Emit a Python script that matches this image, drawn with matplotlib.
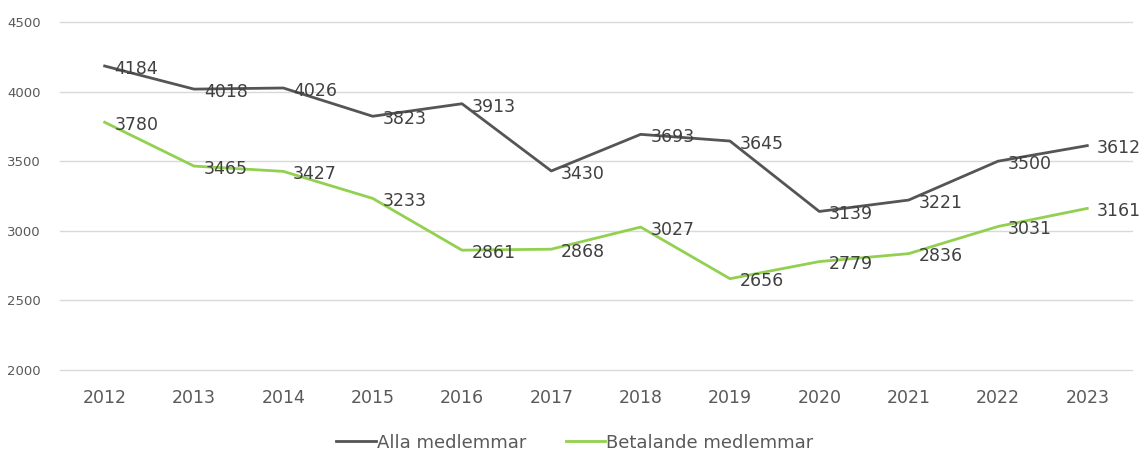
import matplotlib.pyplot as plt

years = ["2012", "2013", "2014", "2015", "2016", "2017", "2018", "2019", "2020", "2021", "2022", "2023"]
alla = [4184, 4018, 4026, 3823, 3913, 3430, 3693, 3645, 3139, 3221, 3500, 3612]
betalande = [3780, 3465, 3427, 3233, 2861, 2868, 3027, 2656, 2779, 2836, 3031, 3161]

text_col = "#404040"
tick_col = "#595959"

fig = plt.figure(figsize=(11.45, 4.54), dpi=100)
ax = fig.add_axes([0.0524, 0.185, 0.9362, 0.7665])

x = list(range(len(years)))
ax.plot(x, alla, color="#555555", lw=2.0, label="Alla medlemmar", solid_joinstyle="round")
ax.plot(x, betalande, color="#92D050", lw=2.0, label="Betalande medlemmar", solid_joinstyle="round")

# data labels right of each point
for series in (alla, betalande):
    for i, v in enumerate(series):
        ax.annotate(str(v), (i, v), xytext=(7, -2), textcoords="offset points",
                    ha="left", va="center", fontsize=12.5, color=text_col)

ax.set_xlim(-0.5, len(years) - 0.5)
ax.set_ylim(2000, 4500)
ax.set_yticks(range(2000, 4501, 500))
ax.set_xticks(x)
ax.set_xticklabels(years)
ax.grid(axis="y", color="#d9d9d9", lw=1)
ax.set_axisbelow(True)
for gl in ax.get_ygridlines():
    gl.set_clip_on(False)
for s in ax.spines.values():
    s.set_visible(False)
ax.tick_params(axis="both", length=0)
ax.tick_params(axis="x", labelsize=12.5, labelcolor=tick_col, pad=14)
ax.tick_params(axis="y", labelsize=9.5, labelcolor=tick_col, pad=14)

fig.legend(loc="center", bbox_to_anchor=(0.502, 0.025), ncol=2, frameon=False,
           fontsize=13, labelcolor=tick_col, handlelength=2.2, handletextpad=0.05,
           columnspacing=2.2)

fig.savefig("out.png", dpi=100)
